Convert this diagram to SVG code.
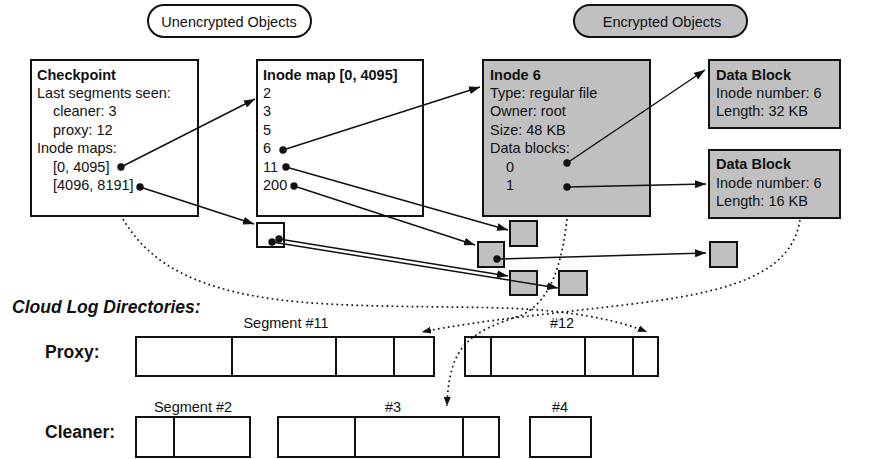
<svg xmlns="http://www.w3.org/2000/svg" width="870" height="459" viewBox="0 0 870 459">
<defs>
<style>
text{font-family:"Liberation Sans",Arial,sans-serif;font-size:14.5px;fill:#111}
.b{font-weight:bold}
.box{fill:#fff;stroke:#111;stroke-width:2}
.gbox{fill:#c0c0c0;stroke:#111;stroke-width:2}
.seg{fill:#fff;stroke:#111;stroke-width:2}
.conn{fill:none;stroke:#111;stroke-width:1.5}
.dot{fill:none;stroke:#111;stroke-width:1.7;stroke-dasharray:1.7 3.3}
.lab{font-weight:bold;font-size:17.5px}
.pt{fill:#111}
</style>
<marker id="ah" markerUnits="userSpaceOnUse" markerWidth="11" markerHeight="8" refX="11" refY="4" orient="auto">
<path d="M0,0 L11,4 L0,8 z" fill="#111"/>
</marker>
<marker id="ahs" markerUnits="userSpaceOnUse" markerWidth="9" markerHeight="7" refX="9" refY="3.5" orient="auto">
<path d="M0,0 L9,3.5 L0,7 z" fill="#111"/>
</marker>
</defs>

<g id="legend-unencrypted">
<rect x="148" y="5" width="163" height="32" rx="16" class="box" stroke-width="1.5"/>
<text x="229" y="26.5" text-anchor="middle">Unencrypted Objects</text>
</g>
<g id="legend-encrypted">
<rect x="574" y="5" width="173" height="32" rx="16" class="gbox" stroke-width="1.5"/>
<text x="662" y="26.5" text-anchor="middle">Encrypted Objects</text>
</g>

<g id="checkpoint">
<rect x="31" y="60" width="167" height="156" class="box"/>
<text x="37" y="79.5" class="b">Checkpoint</text>
<text x="37" y="97.9">Last segments seen:</text>
<text x="53" y="116.3">cleaner: 3</text>
<text x="53" y="134.7">proxy: 12</text>
<text x="37" y="153.1">Inode maps:</text>
<text x="53" y="171.5">[0, 4095]</text>
<text x="53" y="189.9">[4096, 8191]</text>
<circle cx="121" cy="167" r="3.7" class="pt"/>
<circle cx="140" cy="187" r="3.7" class="pt"/>
</g>

<g id="inode-map">
<rect x="257" y="60" width="166" height="156" class="box"/>
<text x="263" y="79.5" class="b">Inode map [0, 4095]</text>
<text x="263" y="97.9">2</text>
<text x="263" y="116.3">3</text>
<text x="263" y="134.7">5</text>
<text x="263" y="153.1">6</text>
<text x="263" y="171.5">11</text>
<text x="263" y="189.9">200</text>
<circle cx="283" cy="150" r="3.7" class="pt"/>
<circle cx="286" cy="167" r="3.7" class="pt"/>
<circle cx="294" cy="186" r="3.7" class="pt"/>
</g>

<g id="inode-6">
<rect x="483" y="60" width="167" height="156" class="gbox"/>
<text x="490" y="79.5" class="b">Inode 6</text>
<text x="490" y="97.9">Type: regular file</text>
<text x="490" y="116.3">Owner: root</text>
<text x="490" y="134.7">Size: 48 KB</text>
<text x="490" y="153.1">Data blocks:</text>
<text x="506" y="171.5">0</text>
<text x="506" y="189.9">1</text>
<circle cx="567" cy="163" r="3.7" class="pt"/>
<circle cx="567" cy="187" r="3.7" class="pt"/>
</g>

<g id="data-block-1">
<rect x="709" y="60" width="131" height="68" class="gbox"/>
<text x="716" y="79.5" class="b">Data Block</text>
<text x="716" y="97.9">Inode number: 6</text>
<text x="716" y="116.3">Length: 32 KB</text>
</g>

<g id="data-block-2">
<rect x="709" y="150" width="131" height="68" class="gbox"/>
<text x="716" y="169" class="b">Data Block</text>
<text x="716" y="187.5">Inode number: 6</text>
<text x="716" y="206">Length: 16 KB</text>
</g>

<g id="inode-map-2">
<rect x="257" y="223" width="27" height="24" class="box"/>
<circle cx="279" cy="239" r="3.7" class="pt"/>
<circle cx="272" cy="242" r="3.7" class="pt"/>
</g>

<g id="obj-a"><rect x="510" y="221" width="27" height="25" class="gbox"/></g>
<g id="obj-b"><rect x="478" y="242" width="26" height="25" class="gbox"/><circle cx="497" cy="259" r="3.7" class="pt"/></g>
<g id="obj-c"><rect x="510" y="271" width="27" height="24" class="gbox"/></g>
<g id="obj-d"><rect x="559" y="271" width="28" height="24" class="gbox"/></g>
<g id="obj-e"><rect x="710" y="242" width="27" height="25" class="gbox"/></g>

<g id="log-dirs">
<text x="12" y="313" class="lab" font-style="italic">Cloud Log Directories:</text>
<text x="45" y="358" class="lab">Proxy:</text>
<text x="45" y="438" class="lab">Cleaner:</text>
</g>

<g id="proxy-seg-11">
<text x="286" y="328" text-anchor="middle">Segment #11</text>
<rect x="136" y="337" width="298" height="39" class="seg"/>
<path d="M232,337V376M336,337V376M394,337V376" class="seg"/>
</g>
<g id="proxy-seg-12">
<text x="562" y="328" text-anchor="middle">#12</text>
<rect x="465" y="337" width="193" height="39" class="seg"/>
<path d="M491,337V376M585,337V376M633,337V376" class="seg"/>
</g>
<g id="cleaner-seg-2">
<text x="193" y="412" text-anchor="middle">Segment #2</text>
<rect x="136" y="417" width="114" height="40" class="seg"/>
<path d="M174,417V457" class="seg"/>
</g>
<g id="cleaner-seg-3">
<text x="393" y="412" text-anchor="middle">#3</text>
<rect x="278" y="417" width="221" height="40" class="seg"/>
<path d="M355,417V457M463,417V457" class="seg"/>
</g>
<g id="cleaner-seg-4">
<text x="560" y="412" text-anchor="middle">#4</text>
<rect x="530" y="417" width="61" height="40" class="seg"/>
</g>

<g id="connectors">
<line x1="121" y1="167" x2="255" y2="99" class="conn" marker-end="url(#ah)"/>
<line x1="140" y1="187" x2="254" y2="224" class="conn" marker-end="url(#ah)"/>
<line x1="283" y1="150" x2="480" y2="87" class="conn" marker-end="url(#ah)"/>
<line x1="286" y1="167" x2="508" y2="230" class="conn" marker-end="url(#ah)"/>
<line x1="294" y1="186" x2="475" y2="245" class="conn" marker-end="url(#ah)"/>
<line x1="567" y1="163" x2="705" y2="70" class="conn" marker-end="url(#ah)"/>
<line x1="567" y1="187" x2="706" y2="184" class="conn" marker-end="url(#ah)"/>
<line x1="497" y1="259" x2="706" y2="253" class="conn" marker-end="url(#ah)"/>
<line x1="279" y1="239" x2="508" y2="276" class="conn" marker-end="url(#ah)"/>
<line x1="272" y1="242" x2="558" y2="288" class="conn" marker-end="url(#ah)"/>
<path d="M123,219 C150,265 200,293 300,302 C380,309 480,305 540,310 C585,314 620,321 647,332" class="dot" marker-end="url(#ahs)"/>
<path d="M567,219 C562,262 552,300 522,315 C472,332 449,342 447,406" class="dot" marker-end="url(#ahs)"/>
<path d="M800,220 C792,268 745,290 640,303 C560,313 480,320 422,332" class="dot" marker-end="url(#ahs)"/>
</g>
</svg>
